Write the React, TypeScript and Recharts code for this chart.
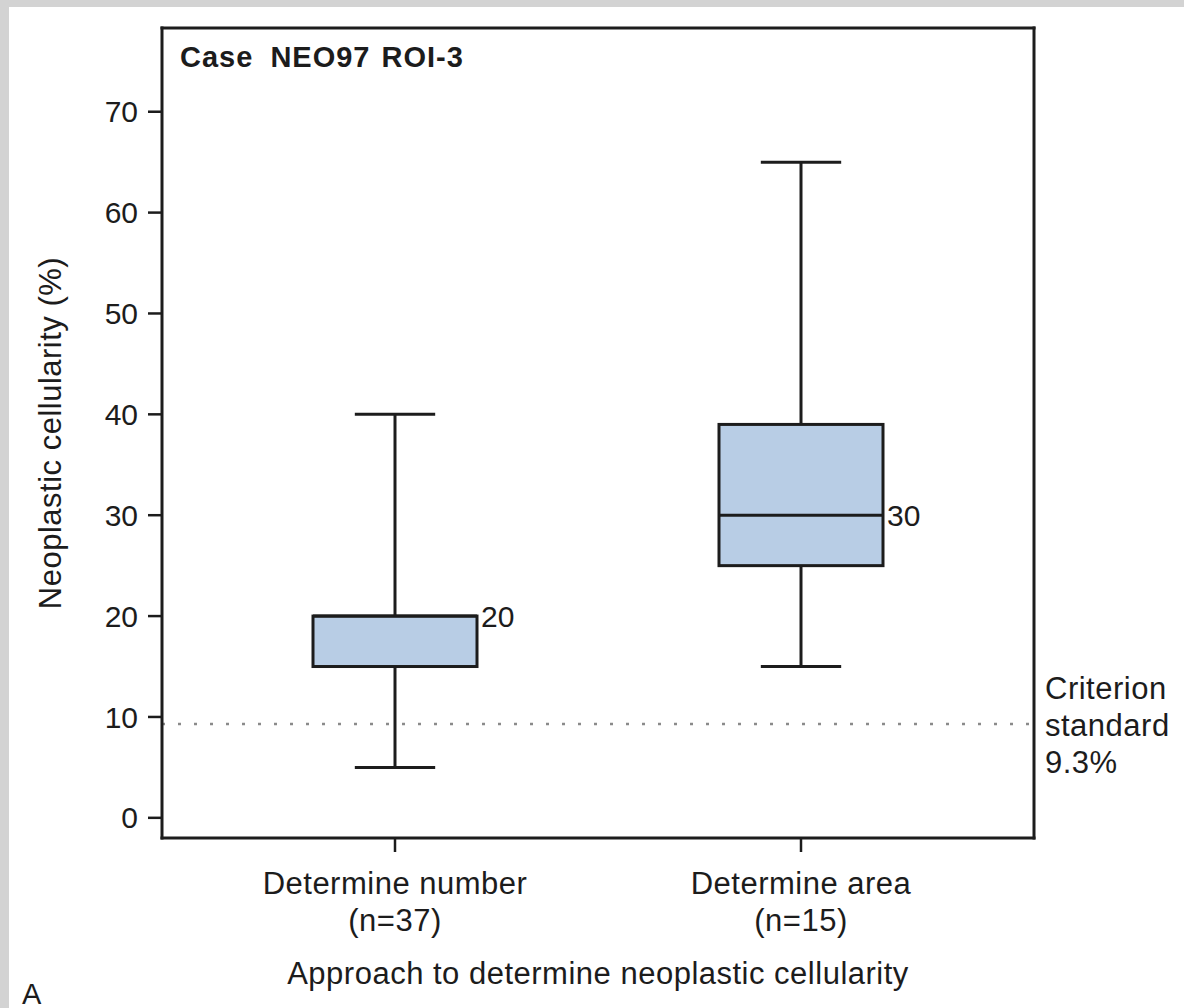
import React from 'react';
import {
  ComposedChart,
  Bar,
  XAxis,
  YAxis,
  ReferenceLine,
} from 'recharts';

// box plot summary per approach
const CATEGORIES = ['Determine number', 'Determine area'];
const COUNTS = ['(n=37)', '(n=15)'];
const MINS = [5, 15];
const Q1S = [15, 25];
const MEDIANS = [20, 30];
const Q3S = [20, 39];
const MAXS = [40, 65];

const Y_TICKS = [0, 10, 20, 30, 40, 50, 60, 70];
const Y_DOMAIN = [-2, 78.3];
const CRITERION = 9.3;
const CRITERION_LINES = ['Criterion', 'standard', '9.3%'];

const FONT = '"Liberation Sans", Arial, Helvetica, sans-serif';
const INK = '#1c1c1c';
const BOX_FILL = '#b8cde5';

const data = CATEGORIES.map((name, i) => ({
  name,
  count: COUNTS[i],
  min: MINS[i],
  q1: Q1S[i],
  median: MEDIANS[i],
  q3: Q3S[i],
  max: MAXS[i],
}));

const BoxShape = (props: any) => {
  const { x, y, width, height, payload } = props;
  const top = Math.min(y, y + height);
  const bottom = Math.max(y, y + height);
  const span = payload.max - payload.min;
  const py = (v: number) => top + ((payload.max - v) / span) * (bottom - top);
  const cx = x + width / 2;
  const cap = width * 0.245;
  return (
    <g>
      <line x1={cx} x2={cx} y1={py(payload.max)} y2={py(payload.q3)} stroke={INK} strokeWidth={3} />
      <line x1={cx} x2={cx} y1={py(payload.q1)} y2={py(payload.min)} stroke={INK} strokeWidth={3} />
      <line x1={cx - cap} x2={cx + cap} y1={py(payload.max)} y2={py(payload.max)} stroke={INK} strokeWidth={3} />
      <line x1={cx - cap} x2={cx + cap} y1={py(payload.min)} y2={py(payload.min)} stroke={INK} strokeWidth={3} />
      <rect
        x={x}
        y={py(payload.q3)}
        width={width}
        height={py(payload.q1) - py(payload.q3)}
        fill={BOX_FILL}
        stroke={INK}
        strokeWidth={3}
      />
      <line x1={x} x2={x + width} y1={py(payload.median)} y2={py(payload.median)} stroke={INK} strokeWidth={3} />
      <text
        x={x + width + 4}
        y={py(payload.median)}
        dy={11}
        fontSize={30}
        fontFamily={FONT}
        fill={INK}
      >
        {payload.median}
      </text>
    </g>
  );
};

const XTick = (props: any) => {
  const { x, y, payload, index } = props;
  return (
    <text x={x} y={y} textAnchor="middle" fontSize={31} letterSpacing={0.5} fontFamily={FONT} fill={INK}>
      <tspan x={x} dy={40}>{payload.value}</tspan>
      <tspan x={x} dy={37}>{COUNTS[index]}</tspan>
    </text>
  );
};

const CriterionLabel = (props: any) => {
  const { viewBox } = props;
  const x = viewBox.x + viewBox.width + 11;
  const y = viewBox.y;
  return (
    <text x={x} y={y} fontSize={31} letterSpacing={0.5} fontFamily={FONT} fill={INK}>
      {CRITERION_LINES.map((t, i) => (
        <tspan key={t} x={x} y={y + (i - 1) * 37 + 12}>{t}</tspan>
      ))}
    </text>
  );
};

const YLabel = (props: any) => {
  const { viewBox } = props;
  const cx = viewBox.x + 40;
  const cy = viewBox.y + viewBox.height / 2;
  return (
    <text
      x={cx}
      y={cy}
      textAnchor="middle"
      dominantBaseline="central"
      transform={`rotate(-90 ${cx} ${cy})`}
      fontSize={31}
      letterSpacing={0.5}
      fontFamily={FONT}
      fill={INK}
    >
      Neoplastic cellularity (%)
    </text>
  );
};

const XLabel = (props: any) => {
  const { viewBox } = props;
  const cx = viewBox.x + viewBox.width / 2;
  return (
    <text
      x={cx}
      y={viewBox.y + 146}
      textAnchor="middle"
      fontSize={31}
      letterSpacing={0.5}
      fontFamily={FONT}
      fill={INK}
    >
      Approach to determine neoplastic cellularity
    </text>
  );
};

const axisLine = { stroke: INK, strokeWidth: 3, strokeLinecap: 'square' as const };
const tickLine = { stroke: INK, strokeWidth: 2.5 };

export default function App() {
  return (
    <div style={{ position: 'absolute', left: 0, top: 0, width: 1184, height: 1008, background: '#d3d3d3' }}>
      <div style={{ position: 'absolute', left: 9, top: 7, right: 0, bottom: 0, background: '#fff' }} />
      <div style={{ position: 'absolute', left: 0, top: 0 }}>
        <ComposedChart
          width={1184}
          height={1008}
          data={data}
          margin={{ top: 27, right: 149, bottom: 30, left: 10 }}
        >
          <XAxis
            dataKey="name"
            padding={{ left: 30, right: 30 }}
            height={140}
            axisLine={axisLine}
            tickLine={tickLine}
            tickSize={14}
            tick={<XTick />}
            interval={0}
            label={<XLabel />}
          />
          <XAxis
            xAxisId="top"
            dataKey="name"
            orientation="top"
            height={1}
            axisLine={axisLine}
            tick={false}
            tickLine={false}
          />
          <YAxis
            type="number"
            domain={Y_DOMAIN}
            ticks={Y_TICKS}
            allowDataOverflow
            width={152}
            axisLine={axisLine}
            tickLine={tickLine}
            tickSize={14}
            tickMargin={10}
            tick={{ fontSize: 30, fontFamily: FONT, fill: INK }}
            label={<YLabel />}
          />
          <YAxis
            yAxisId="right"
            orientation="right"
            type="number"
            domain={Y_DOMAIN}
            width={1}
            axisLine={axisLine}
            tick={false}
            tickLine={false}
          />
          <ReferenceLine
            y={CRITERION}
            stroke="#8a8a8a"
            strokeWidth={2.5}
            strokeDasharray="3 13"
            label={<CriterionLabel />}
          />
          <Bar
            dataKey={(d: any) => [d.min, d.max]}
            barSize={164}
            shape={<BoxShape />}
            isAnimationActive={false}
          />
        </ComposedChart>
      </div>
      <div
        style={{
          position: 'absolute',
          left: 180,
          top: 41,
          fontFamily: FONT,
          fontWeight: 'bold',
          fontSize: 29,
          wordSpacing: 2,
          letterSpacing: 1,
          color: INK,
        }}
      >
        Case <span style={{ marginLeft: 6 }}>NEO97</span> ROI-3
      </div>
      <div style={{ position: 'absolute', left: 22, top: 978, fontFamily: FONT, fontSize: 29, color: INK }}>A</div>
    </div>
  );
}
